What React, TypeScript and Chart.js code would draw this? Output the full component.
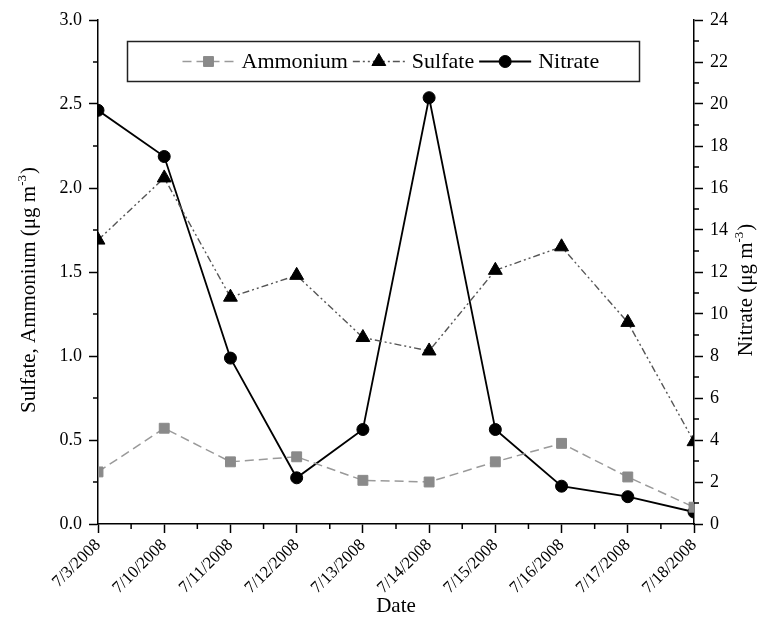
import React, { useEffect, useRef } from 'react';
import { Chart, registerables } from 'chart.js';
import { drawPoint } from 'chart.js/helpers';

Chart.register(...registerables);

const categories = ['7/3/2008', '7/10/2008', '7/11/2008', '7/12/2008', '7/13/2008', '7/14/2008', '7/15/2008', '7/16/2008', '7/17/2008', '7/18/2008'];
const ammonium = [0.31, 0.57, 0.37, 0.40, 0.26, 0.25, 0.37, 0.48, 0.28, 0.10];
const sulfate = [1.69, 2.06, 1.35, 1.48, 1.11, 1.03, 1.51, 1.65, 1.20, 0.49];
const nitrate = [19.7, 17.5, 7.9, 2.2, 4.5, 20.3, 4.5, 1.8, 1.3, 0.57];

const leftTitle = { main: 'Sulfate, Ammonium (\u03bcg m', sup: '-3', tail: ')' };
const rightTitle = { main: 'Nitrate (\u03bcg m', sup: '-3', tail: ')' };
const xTitle = 'Date';

const FONT = "'Liberation Serif', 'Times New Roman', serif";

function drawSupTitle(ctx: CanvasRenderingContext2D, cx: number, cy: number, angle: number, t: { main: string; sup: string; tail: string }, size: number) {
  ctx.save();
  ctx.translate(cx, cy);
  ctx.rotate(angle);
  ctx.fillStyle = '#000';
  ctx.textBaseline = 'alphabetic';
  ctx.textAlign = 'left';
  const big = `${size}px ${FONT}`;
  const small = `${Math.round(size * 0.62)}px ${FONT}`;
  ctx.font = big;
  const w1 = ctx.measureText(t.main).width;
  const w3 = ctx.measureText(t.tail).width;
  ctx.font = small;
  const w2 = ctx.measureText(t.sup).width;
  const total = w1 + w2 + w3 + 1;
  let x = -total / 2;
  const base = size * 0.35;
  ctx.font = big;
  ctx.fillText(t.main, x, base);
  x += w1;
  ctx.font = small;
  ctx.fillText(t.sup, x, base - size * 0.45);
  x += w2 + 1;
  ctx.font = big;
  ctx.fillText(t.tail, x, base);
  ctx.restore();
}

const decorPlugin = {
  id: 'decor',
  afterDraw(chart: any) {
    const ctx: CanvasRenderingContext2D = chart.ctx;
    const area = chart.chartArea;
    // minor ticks
    ctx.save();
    ctx.strokeStyle = '#000';
    ctx.lineWidth = 1.5;
    const minorLen = 5;
    ['x', 'y', 'y2'].forEach((id) => {
      const s = chart.scales[id];
      s.ticks.forEach((t: any) => {
        if (t.label !== '') return;
        const p = s.getPixelForValue(t.value);
        ctx.beginPath();
        if (id === 'x') {
          ctx.moveTo(p, area.bottom);
          ctx.lineTo(p, area.bottom + minorLen);
        } else if (id === 'y') {
          ctx.moveTo(area.left, p);
          ctx.lineTo(area.left - minorLen, p);
        } else {
          ctx.moveTo(area.right, p);
          ctx.lineTo(area.right + minorLen, p);
        }
        ctx.stroke();
      });
    });
    ctx.restore();

    // legend box inside plot
    const bx = area.left + 29.5;
    const by = area.top + 21.5;
    const bw = 512;
    const bh = 40;
    ctx.save();
    ctx.fillStyle = '#fff';
    ctx.fillRect(bx, by, bw, bh);
    ctx.strokeStyle = '#222';
    ctx.lineWidth = 1.5;
    ctx.strokeRect(bx, by, bw, bh);
    ctx.font = `22px ${FONT}`;
    ctx.textBaseline = 'middle';
    ctx.textAlign = 'left';
    let x = bx + 55;
    const y = by + bh / 2;
    chart.data.datasets.forEach((ds: any) => {
      ctx.save();
      ctx.strokeStyle = ds.borderColor;
      ctx.lineWidth = ds.borderWidth;
      ctx.setLineDash(ds.borderDash || []);
      ctx.beginPath();
      ctx.moveTo(x, y);
      ctx.lineTo(x + 52, y);
      ctx.stroke();
      ctx.setLineDash([]);
      ctx.fillStyle = ds.pointBackgroundColor;
      ctx.strokeStyle = ds.pointBorderColor;
      ctx.lineWidth = 1;
      drawPoint(ctx, { pointStyle: ds.pointStyle, radius: ds.pointRadius, rotation: 0, borderWidth: 1 } as any, x + 26, y);
      ctx.restore();
      ctx.fillStyle = '#000';
      ctx.fillText(ds.label, x + 59, y + 1);
      x += 59 + ctx.measureText(ds.label).width + 5;
    });
    ctx.restore();

    // axis titles
    drawSupTitle(ctx, 28, 290, -Math.PI / 2, leftTitle, 21);
    drawSupTitle(ctx, 745, 290, -Math.PI / 2, rightTitle, 21);
    ctx.save();
    ctx.font = `21px ${FONT}`;
    ctx.fillStyle = '#000';
    ctx.textAlign = 'center';
    ctx.textBaseline = 'middle';
    ctx.fillText(xTitle, 396, 606);
    ctx.restore();
  },
};

const tickColor = (c: any) => (c.tick && c.tick.label === '' ? 'rgba(0,0,0,0)' : '#000');

export default function App() {
  const ref = useRef<HTMLCanvasElement>(null);
  useEffect(() => {
    if (!ref.current) return;
    const toXY = (arr: number[]) => arr.map((v, i) => ({ x: i, y: v }));
    const chart = new Chart(ref.current, {
      type: 'line',
      data: {
        datasets: [
          {
            label: 'Ammonium',
            data: toXY(ammonium),
            yAxisID: 'y',
            borderColor: '#9a9a9a',
            borderWidth: 1.5,
            borderDash: [9, 5],
            pointStyle: 'rect',
            pointRadius: 7,
            pointBackgroundColor: '#8a8a8a',
            pointBorderColor: '#8a8a8a',
            pointBorderWidth: 1,
            tension: 0,
          },
          {
            label: 'Sulfate',
            data: toXY(sulfate),
            yAxisID: 'y',
            borderColor: '#555',
            borderWidth: 1.4,
            borderDash: [7, 3, 2, 3, 2, 3],
            pointStyle: 'triangle',
            pointRadius: 8,
            pointBackgroundColor: '#000',
            pointBorderColor: '#000',
            pointBorderWidth: 1,
            tension: 0,
          },
          {
            label: 'Nitrate',
            data: toXY(nitrate),
            yAxisID: 'y2',
            borderColor: '#000',
            borderWidth: 1.8,
            pointStyle: 'circle',
            pointRadius: 6,
            pointBackgroundColor: '#000',
            pointBorderColor: '#000',
            pointBorderWidth: 1,
            tension: 0,
          },
        ],
      },
      options: {
        animation: false,
        responsive: false,
        maintainAspectRatio: false,
        layout: { padding: { top: 20, left: 0, right: 0, bottom: 0 } },
        plugins: { legend: { display: false }, tooltip: { enabled: false } },
        scales: {
          x: {
            type: 'linear',
            min: 0,
            max: categories.length - 1,
            offset: false,
            border: { display: true, color: '#000', width: 1.5 },
            grid: { drawOnChartArea: false, drawTicks: true, tickLength: 9, tickWidth: 1.5, tickColor },
            ticks: {
              stepSize: 0.5,
              autoSkip: false,
              minRotation: 45,
              maxRotation: 45,
              padding: 2,
              color: '#000',
              font: { family: FONT, size: 17 },
              callback: (v: any) => (Number.isInteger(v) ? categories[v] : ''),
            },
            afterFit: (s: any) => { s.height = 102; },
          },
          y: {
            type: 'linear',
            position: 'left',
            min: 0,
            max: 3,
            border: { display: true, color: '#000', width: 1.5 },
            grid: { drawOnChartArea: false, tickLength: 9, tickWidth: 1.5, tickColor },
            ticks: {
              stepSize: 0.25,
              autoSkip: false,
              padding: 7,
              color: '#000',
              font: { family: FONT, size: 18 },
              callback: (v: any) => (Math.abs(v * 2 - Math.round(v * 2)) < 1e-6 ? Number(v).toFixed(1) : ''),
            },
            afterFit: (s: any) => { s.width = 98; },
          },
          y2: {
            type: 'linear',
            position: 'right',
            min: 0,
            max: 24,
            border: { display: true, color: '#000', width: 1.5 },
            grid: { drawOnChartArea: false, tickLength: 9, tickWidth: 1.5, tickColor },
            ticks: {
              stepSize: 1,
              autoSkip: false,
              padding: 7,
              color: '#000',
              font: { family: FONT, size: 18 },
              callback: (v: any) => (v % 2 === 0 ? String(v) : ''),
            },
            afterFit: (s: any) => { s.width = 76; },
          },
        },
      },
      plugins: [decorPlugin],
    } as any);
    return () => chart.destroy();
  }, []);
  return (
    <div style={{ position: 'absolute', left: 0, top: 0, width: 770, height: 626, background: '#fff' }}>
      <canvas ref={ref} width={770} height={626} style={{ width: 770, height: 626, display: 'block' }} />
    </div>
  );
}
